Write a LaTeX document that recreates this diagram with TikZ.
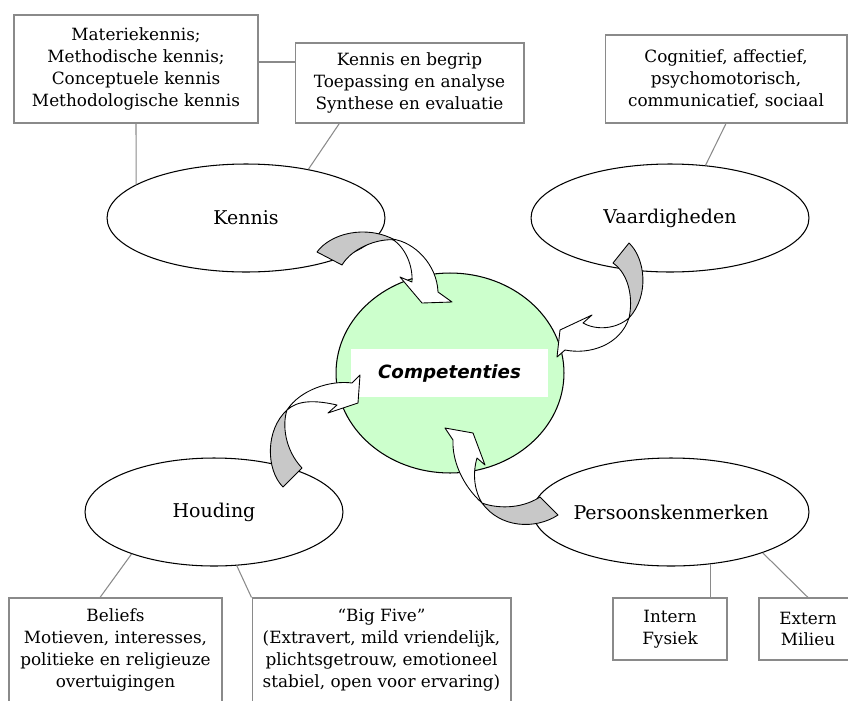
\documentclass[tikz,border=0pt]{standalone}
\usepackage{fontspec}
\setmainfont{DejaVu Serif}
\newfontfamily\compfont{DejaVu Sans}[BoldItalicFont={DejaVu Sans Bold Oblique}]
\usetikzlibrary{shapes.geometric}
\definecolor{compgreen}{HTML}{CCFFCC}
\definecolor{tailgray}{HTML}{C8C8C8}
\definecolor{linegray}{HTML}{8A8A8A}
\tikzstyle{infobox}=[draw=linegray,line width=0.6pt,fill=white,align=center,inner sep=0pt,font=\fontsize{9.6}{12.4}\selectfont]
\tikzstyle{aspect}=[draw,ellipse,line width=0.6pt,fill=white,inner sep=0pt,minimum width=5.56cm,minimum height=2.16cm,font=\fontsize{10.8}{13}\selectfont]
\tikzstyle{link}=[draw=linegray,line width=0.6pt]
\tikzstyle{tail}=[draw,fill=tailgray,line width=0.5pt,line join=round]
\tikzstyle{body}=[draw,fill=white,line width=0.5pt,line join=round]

\begin{document}
\begin{tikzpicture}[x=0.02cm,y=-0.02cm]
\clip (0,0) rectangle (848,700);
% centre
\node[draw,ellipse,fill=compgreen,line width=0.6pt,minimum width=4.56cm,minimum height=4cm] (comp) at (450,373) {};
\node[fill=white,minimum width=3.94cm,minimum height=0.96cm,font=\compfont\bfseries\itshape\fontsize{10.4}{12}\selectfont] (complabel) at (449.5,373) {Competenties};
% aspects
\node[aspect] (kennis) at (246,218) {Kennis};
\node[aspect] (vaardig) at (670,218) {Vaardigheden};
\node[aspect,minimum width=5.16cm] (houding) at (214,512) {Houding};
\node[aspect,minimum width=5.52cm] (persoon) at (671,512) {Persoonskenmerken};
% boxes
\node[infobox,minimum width=4.88cm,minimum height=2.16cm] (kenlijst) at (136,69) {Materiekennis;\\Methodische kennis;\\Conceptuele kennis\\Methodologische kennis};
\node[infobox,minimum width=4.58cm,minimum height=1.6cm] (taxlijst) at (409.5,83) {Kennis en begrip\\Toepassing en analyse\\Synthese en evaluatie};
\node[infobox,minimum width=4.84cm,minimum height=1.76cm] (vaarlijst) at (726,79) {Cognitief, affectief,\\psychomotorisch,\\communicatief, sociaal};
\node[infobox,minimum width=4.26cm,minimum height=2.08cm] (beliefs) at (115.5,650) {Beliefs\\Motieven, interesses,\\politieke en religieuze\\overtuigingen};
\node[infobox,minimum width=5.18cm,minimum height=2.08cm] (bigfive) at (381.5,650) {“Big Five”\\(Extravert, mild vriendelijk,\\plichtsgetrouw, emotioneel\\stabiel, open voor ervaring)};
\node[infobox,minimum width=2.28cm,minimum height=1.24cm] (intern) at (670,629) {Intern\\Fysiek};
\node[infobox,minimum width=1.96cm,minimum height=1.24cm] (extern) at (808,629) {Extern\\Milieu};
% links
\draw[link] ([yshift=4pt]kenlijst.east) -- ([yshift=4pt]kenlijst.east -| taxlijst.west);
\draw[link] (kenlijst.south) -- (kennis.163);
\draw[link] (taxlijst.210) -- (kennis.38);
\draw[link] (vaarlijst.south) -- (vaardig.56);
\draw[link] (houding.207) -- ([xshift=-0.31cm]beliefs.north);
\draw[link] (houding.293) -- (bigfive.north west);
\draw[link] (persoon.-53) -- (persoon.-53 |- intern.north);
\draw[link] (persoon.-24) -- (extern.north);
% curved arrows
\path[tail] (317,252) .. controls (330,234) and (365,224) .. (395,240) .. controls (378,238) and (352,248) .. (342,265) -- cycle;
\path[body] (392,239) .. controls (415,242) and (437,265) .. (438,292) -- (452,302) -- (422,303) -- (400,277) -- (412,282) .. controls (413,265) and (405,247) .. (392,239) -- cycle;
\path[tail] (629,243) .. controls (645,258) and (650,295) .. (629,318) .. controls (633,300) and (630,275) .. (613,263) -- cycle;
\path[body] (629,318) .. controls (615,330) and (595,330) .. (583,323) -- (592,315) -- (560,330) -- (557,357) -- (565,350) .. controls (590,355) and (620,345) .. (629,318) -- cycle;
\path[tail] (283,487) .. controls (266,470) and (265,430) .. (287,410) .. controls (282,425) and (285,450) .. (302,468) -- cycle;
\path[body] (287,410) .. controls (300,390) and (330,380) .. (352,383) -- (360,375) -- (358,403) -- (328,413) -- (337,405) .. controls (315,400) and (298,400) .. (287,410) -- cycle;
\path[tail] (558,515) .. controls (535,530) and (500,528) .. (482,503) .. controls (495,508) and (520,510) .. (540,497) -- cycle;
\path[body] (482,503) .. controls (462,485) and (452,460) .. (453,440) -- (445,428) -- (473,433) -- (485,465) -- (477,458) .. controls (472,475) and (475,492) .. (482,503) -- cycle;
\end{tikzpicture}
\end{document}
